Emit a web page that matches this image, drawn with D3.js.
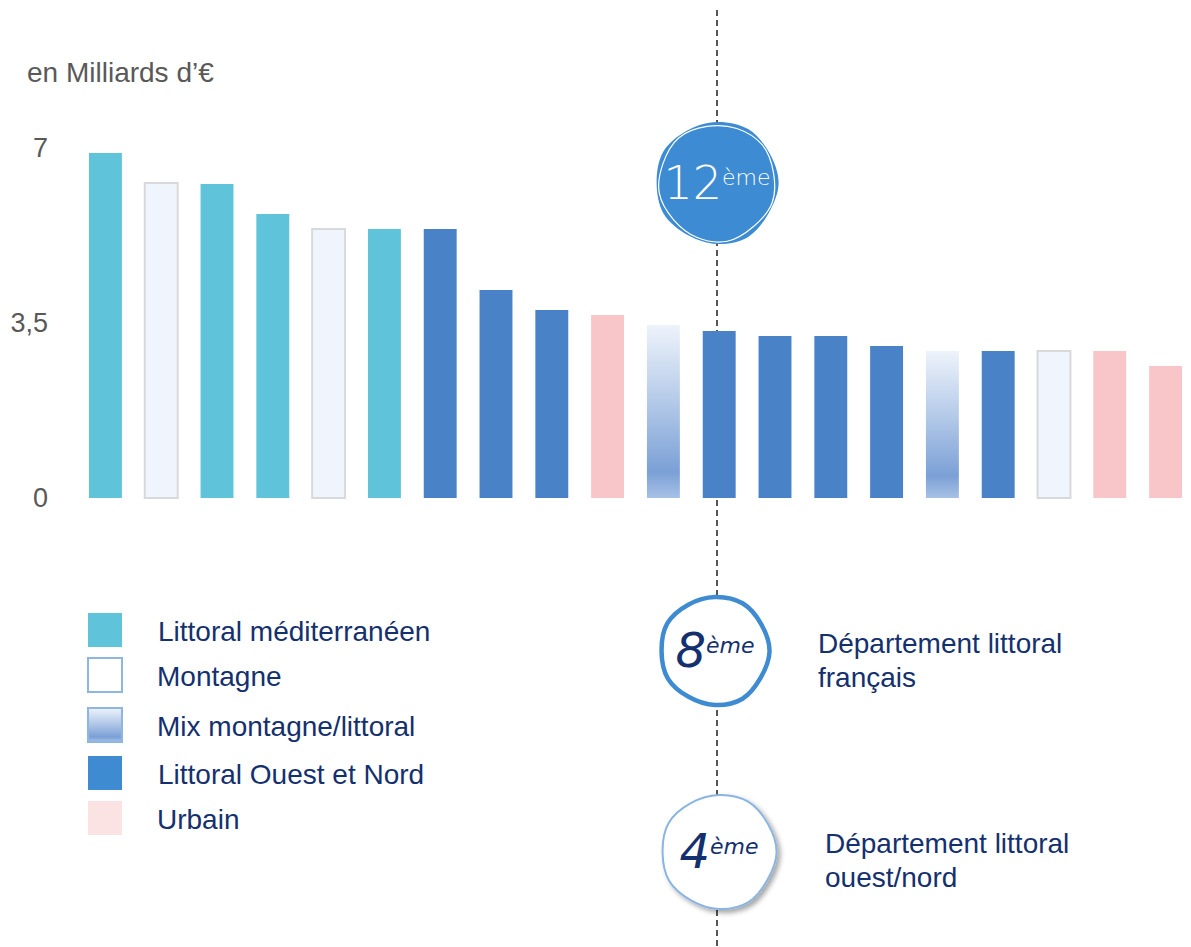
<!DOCTYPE html>
<html>
<head>
<meta charset="utf-8">
<script src="https://cdn.jsdelivr.net/npm/d3@7"></script>
<style>
  body { margin: 0; background: #fff; }
  text { font-family: "Liberation Sans", Arial, sans-serif; }
</style>
</head>
<body>
<script>
var width = 1191,
	height = 947;

// valeurs (en milliards d'euros)
var values = [6.9, 6.3, 6.28, 5.68, 5.38, 5.38, 5.38, 4.16, 3.76, 3.66,
	3.46, 3.34, 3.24, 3.24, 3.04, 2.94, 2.94, 2.94, 2.94, 2.64];
var types = ["med", "mont", "med", "med", "mont", "med", "ouest", "ouest", "ouest", "urb",
	"mix", "ouest", "ouest", "ouest", "ouest", "mix", "ouest", "mont", "urb", "urb"];
var yTicks = [0, 3.5, 7];

var legendKeys = ["med", "mont", "mix", "ouest", "urb"];
var legendLabels = ["Littoral méditerranéen", "Montagne", "Mix montagne/littoral", "Littoral Ouest et Nord", "Urbain"];

var rankLabels = ["12", "8", "4"];
var rankTexts = [[], ["Département littoral", "français"], ["Département littoral", "ouest/nord"]];

var fills = { med: "#5FC3D9", mont: "#F0F5FD", mix: "url(#mixGrad)", ouest: "#4A82C8", urb: "#F8C6C9" };

var svg = d3.select("body")
		.append("svg")
		.attr("width", width)
		.attr("height", height);

var defs = svg.append("defs");
var grad = defs.append("linearGradient")
	.attr("id", "mixGrad")
	.attr("x1", 0).attr("y1", 0).attr("x2", 0).attr("y2", 1);
grad.append("stop").attr("offset", "0%").attr("stop-color", "#EEF3FB");
grad.append("stop").attr("offset", "45%").attr("stop-color", "#B3C9E8");
grad.append("stop").attr("offset", "85%").attr("stop-color", "#7BA0D6");
grad.append("stop").attr("offset", "100%").attr("stop-color", "#A7C1E6");

var shadow = defs.append("filter").attr("id", "shadow")
	.attr("x", "-30%").attr("y", "-30%").attr("width", "160%").attr("height", "160%");
shadow.append("feDropShadow")
	.attr("dx", 3).attr("dy", 3).attr("stdDeviation", 2.5)
	.attr("flood-color", "#000").attr("flood-opacity", 0.35);

var x = d3.scaleBand()
	.domain(d3.range(values.length))
	.range([75, 1196])
	.paddingInner(0.41)
	.paddingOuter(0.25);

var y = d3.scaleLinear()
	.domain([0, 7])
	.range([498, 148]);

// dashed separator
svg.append("line")
	.attr("x1", 717).attr("x2", 717)
	.attr("y1", 10).attr("y2", height)
	.attr("stroke", "#555")
	.attr("stroke-width", 2)
	.attr("stroke-dasharray", "6,4");

// axis
var axis = svg.append("g")
	.attr("transform", "translate(48,0)")
	.call(d3.axisLeft(y).tickValues(yTicks).tickSize(0).tickPadding(0)
		.tickFormat(function (d) { return String(d).replace(".", ","); }));
axis.select(".domain").remove();
axis.selectAll("text")
	.attr("font-size", 27)
	.attr("fill", "#595959")
	.style("font-family", "Liberation Sans, Arial, sans-serif");

svg.append("text")
	.attr("x", 27).attr("y", 82)
	.attr("font-size", 28)
	.attr("fill", "#595959")
	.text("en Milliards d’€");

// bars
svg.selectAll("rect.bar")
	.data(values)
	.enter().append("rect")
	.attr("class", "bar")
	.attr("x", function (d, i) { return x(i); })
	.attr("y", function (d) { return y(d); })
	.attr("width", x.bandwidth())
	.attr("height", function (d) { return y(0) - y(d); })
	.attr("fill", function (d, i) { return fills[types[i]]; })
	.attr("stroke", function (d, i) { return types[i] == "mont" ? "#D9D9D9" : "none"; })
	.attr("stroke-width", 2);

// legend
var legend = svg.selectAll("g.leg")
	.data(legendKeys)
	.enter().append("g")
	.attr("class", "leg")
	.attr("transform", function (d, i) { return "translate(0," + [613, 658, 708, 756, 801][i] + ")"; });

legend.append("rect")
	.attr("x", 88).attr("y", 0)
	.attr("width", 34).attr("height", 34)
	.attr("fill", function (d) { return d == "mont" ? "#fff" : (d == "urb" ? "#FBE3E4" : (d == "ouest" ? "#3E8BD2" : fills[d])); })
	.attr("stroke", function (d) { return (d == "mont" || d == "mix") ? "#8DB6E2" : "none"; })
	.attr("stroke-width", 2);

legend.append("text")
	.attr("x", function (d, i) { return i == 0 || i == 3 ? 158 : 157; })
	.attr("y", 28)
	.attr("font-size", 28)
	.attr("fill", "#14306E")
	.text(function (d, i) { return legendLabels[i]; });

// rank badges
var wobble = [1, 1.02, 0.99, 1.01, 0.98, 1.02, 1, 0.98, 1.01, 0.99, 1.02, 0.99];
var blob = function (r) {
	return d3.lineRadial()
		.angle(function (d, i) { return i / wobble.length * 2 * Math.PI; })
		.radius(function (d) { return r * d; })
		.curve(d3.curveCardinalClosed)(wobble);
};

var badges = [
	{ cx: 717, cy: 183, r: 61 },
	{ cx: 715, cy: 651, r: 54 },
	{ cx: 719, cy: 852, r: 57 }
];

// 12ème
var b0 = svg.append("g").attr("transform", "translate(" + badges[0].cx + "," + badges[0].cy + ")");
b0.append("path").attr("d", blob(badges[0].r)).attr("fill", "#3D8BD2");
b0.append("path").attr("d", blob(badges[0].r - 3)).attr("fill", "none")
	.attr("stroke", "#fff").attr("stroke-width", 1.2).attr("transform", "rotate(20)");

// 8ème
var b1 = svg.append("g").attr("transform", "translate(" + badges[1].cx + "," + badges[1].cy + ")");
b1.append("path").attr("d", blob(badges[1].r)).attr("fill", "#fff")
	.attr("stroke", "#3F8BD2").attr("stroke-width", 4.5);

// 4ème
var b2 = svg.append("g").attr("transform", "translate(" + badges[2].cx + "," + badges[2].cy + ")");
b2.append("path").attr("d", blob(badges[2].r)).attr("fill", "#fff")
	.attr("stroke", "#8AB5E2").attr("stroke-width", 2)
	.attr("filter", "url(#shadow)");

var rankColor = ["#fff", "#14306E", "#14306E"];
var numSize = [46, 48, 48];
[b0, b1, b2].forEach(function (g, i) {
	var t = g.append("text")
		.attr("text-anchor", "middle")
		.attr("y", 16)
		.attr("fill", rankColor[i])
		.style("font-family", "DejaVu Sans, sans-serif")
		.style("font-weight", 200)
		.style("font-style", i == 0 ? "normal" : "italic");
	t.append("tspan").attr("font-size", numSize[i]).text(rankLabels[i]);
	t.append("tspan").attr("font-size", 22).attr("dy", -14).text("ème");
});

// badge captions
var caps = [null, { x: 818, y: 653 }, { x: 825, y: 853 }];
caps.forEach(function (c, i) {
	if (!c) return;
	svg.append("text")
		.attr("x", c.x).attr("y", c.y)
		.attr("font-size", 28)
		.attr("fill", "#14306E")
		.selectAll("tspan")
		.data(rankTexts[i])
		.enter().append("tspan")
		.attr("x", c.x)
		.attr("dy", function (d, k) { return k == 0 ? 0 : 34; })
		.text(function (d) { return d; });
});
</script>
</body>
</html>
